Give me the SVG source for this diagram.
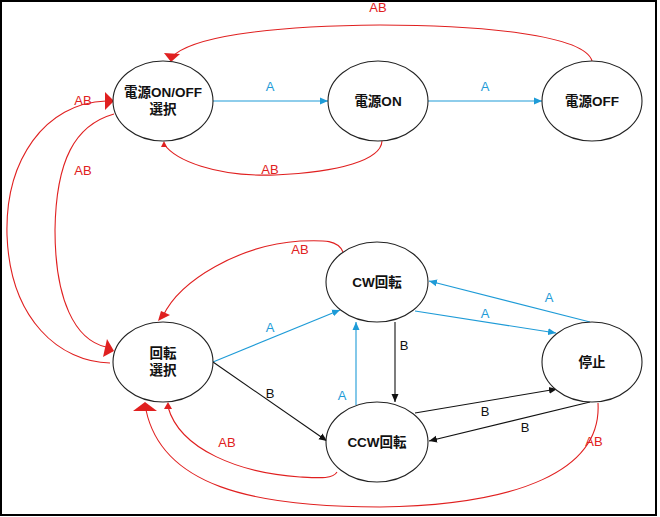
<svg xmlns="http://www.w3.org/2000/svg" width="660" height="517" viewBox="0 0 660 517">
<style>
.node ellipse{fill:#fff;stroke:#222;stroke-width:1.1}
.node text{font-family:"Liberation Sans","Noto Sans CJK JP",sans-serif;font-weight:bold;font-size:13.5px;fill:#111;text-anchor:middle}
.c{fill:none;stroke-width:1.1}
.blue{stroke:#1e9bd7}
.black{stroke:#111}
.red{stroke:#e02020}
.rh{fill:#e02020;stroke:none}
.lbl{font-family:"Liberation Sans",sans-serif;font-size:13px;text-anchor:middle}
.lb{fill:#1e9bd7}.lk{fill:#111}.lr{fill:#e02020}
</style>
<defs>
<marker id="ab" markerUnits="userSpaceOnUse" markerWidth="9" markerHeight="8" refX="8" refY="4" orient="auto"><path d="M0,0.5 L8,4 L0,7.5 Z" fill="#1e9bd7"/></marker>
<marker id="ak" markerUnits="userSpaceOnUse" markerWidth="9" markerHeight="8" refX="8" refY="4" orient="auto"><path d="M0,0.5 L8,4 L0,7.5 Z" fill="#111"/></marker>
</defs>
<rect x="1" y="1" width="655" height="514" fill="#fff" stroke="#000" stroke-width="2"/>
<g id="connectors">
<path class="c blue" d="M213,101 L328,101" marker-end="url(#ab)"/>
<path class="c blue" d="M428,101 L542,101" marker-end="url(#ab)"/>
<path class="c red" d="M592,61 C585,35 480,25 380,25 C260,26 190,38 172,57"/>
<polygon class="rh" points="171,62 164,53 180,54"/>
<path class="c red" d="M382,141 C381,160 340,172 275,175 C215,177 175,160 164,144"/>
<polygon class="rh" points="164,141 161,147 167,147"/>
<path class="c red" d="M110,363 C60,362 10,320 7,235 C5,160 45,103 106,101"/>
<polygon class="rh" points="114,101 105,92 105,110"/>
<path class="c red" d="M114,114 C75,125 56,160 55,230 C55,300 75,340 106,347"/>
<polygon class="rh" points="114,351 107,339 103,357"/>
<path class="c red" d="M343,252 C338,240 325,240 300,241 C240,245 180,280 163,316"/>
<polygon class="rh" points="158,321 161,311 170,315"/>
<path class="c blue" d="M213,362 L340,310" marker-end="url(#ab)"/>
<path class="c black" d="M213,362 L327,441" marker-end="url(#ak)"/>
<path class="c black" d="M395,322 L395,402" marker-end="url(#ak)"/>
<path class="c blue" d="M356,405 L356,322" marker-end="url(#ab)"/>
<path class="c blue" d="M415,311 L556,333" marker-end="url(#ab)"/>
<path class="c blue" d="M590,322 L429,281" marker-end="url(#ab)"/>
<path class="c black" d="M415,413 L557,389" marker-end="url(#ak)"/>
<path class="c black" d="M590,402 L429,441" marker-end="url(#ak)"/>
<path class="c red" d="M337,472 C333,479 320,478 300,477 C240,473 180,450 168,407"/>
<polygon class="rh" points="168,402 164,409 172,409"/>
<path class="c red" d="M598,403 C602,470 520,505 380,507 C250,507 162,485 146,410"/>
<polygon class="rh" points="145,402 133,411 157,411"/>
<text class="lbl lr" x="378" y="12">AB</text>
<text class="lbl lb" x="270" y="91">A</text>
<text class="lbl lb" x="485" y="91">A</text>
<text class="lbl lr" x="270" y="174">AB</text>
<text class="lbl lr" x="83" y="105">AB</text>
<text class="lbl lr" x="83" y="175">AB</text>
<text class="lbl lr" x="300" y="254">AB</text>
<text class="lbl lb" x="270" y="332">A</text>
<text class="lbl lk" x="270" y="398">B</text>
<text class="lbl lk" x="404" y="350">B</text>
<text class="lbl lb" x="342" y="400">A</text>
<text class="lbl lb" x="485" y="318">A</text>
<text class="lbl lb" x="549" y="302">A</text>
<text class="lbl lk" x="485" y="416">B</text>
<text class="lbl lk" x="525" y="432">B</text>
<text class="lbl lr" x="227" y="447">AB</text>
<text class="lbl lr" x="594" y="446">AB</text>
</g>
<g id="n-power-select" class="node"><ellipse cx="163" cy="101" rx="50" ry="40"/><text x="163" y="97">電源ON/OFF</text><text x="163" y="114">選択</text></g>
<g id="n-power-on" class="node"><ellipse cx="378" cy="101" rx="50" ry="40"/><text x="378" y="106">電源ON</text></g>
<g id="n-power-off" class="node"><ellipse cx="592" cy="101" rx="50" ry="40"/><text x="592" y="106">電源OFF</text></g>
<g id="n-rot-select" class="node"><ellipse cx="163" cy="362" rx="50" ry="40"/><text x="163" y="358">回転</text><text x="163" y="375">選択</text></g>
<g id="n-cw" class="node"><ellipse cx="377" cy="282" rx="51" ry="40"/><text x="377" y="287">CW回転</text></g>
<g id="n-ccw" class="node"><ellipse cx="377" cy="442" rx="51" ry="40"/><text x="377" y="447">CCW回転</text></g>
<g id="n-stop" class="node"><ellipse cx="592" cy="362" rx="50" ry="40"/><text x="592" y="367">停止</text></g>
</svg>
